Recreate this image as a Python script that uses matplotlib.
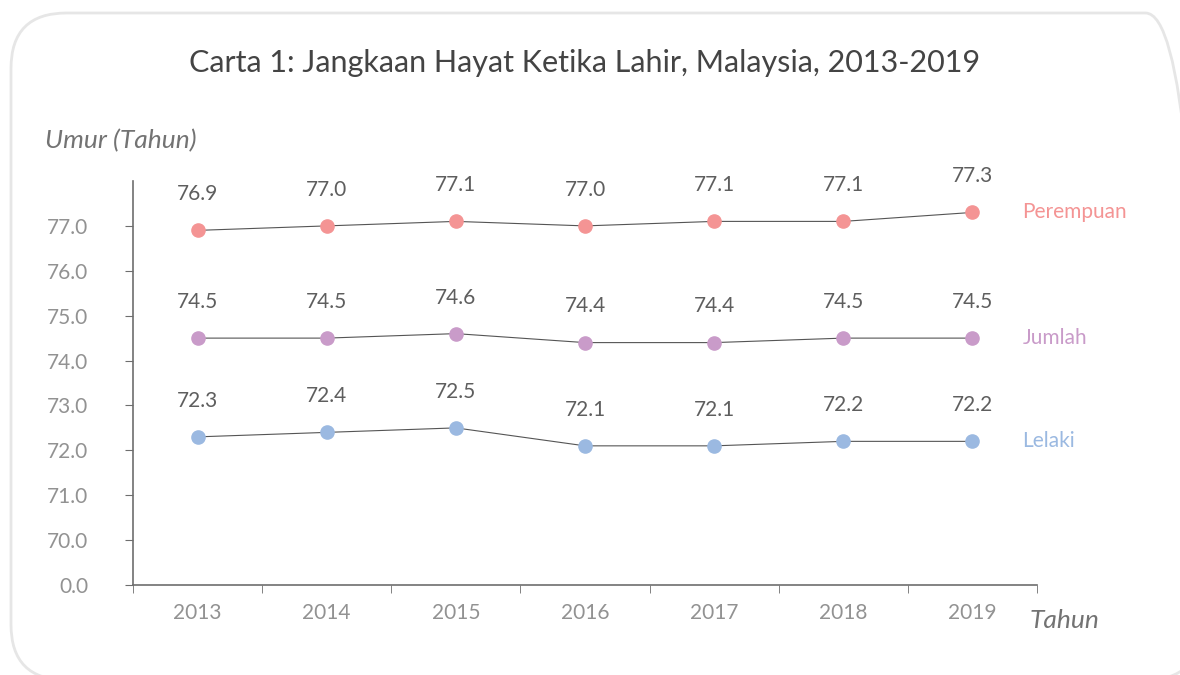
import numpy as np
import matplotlib
matplotlib.use('Agg')
import matplotlib.pyplot as plt
from matplotlib.patches import FancyBboxPatch

years = ['2013', '2014', '2015', '2016', '2017', '2018', '2019']
perempuan = [76.9, 77.0, 77.1, 77.0, 77.1, 77.1, 77.3]
jumlah = [74.5, 74.5, 74.6, 74.4, 74.4, 74.5, 74.5]
lelaki = [72.3, 72.4, 72.5, 72.1, 72.1, 72.2, 72.2]
series_names = ['Perempuan', 'Jumlah', 'Lelaki']
series_colors = ['#f49494', '#c99bc9', '#9bb9e1']
y_ticks = [0, 70, 71, 72, 73, 74, 75, 76, 77]

plt.rcParams['font.family'] = ['Lato', 'DejaVu Sans']


# broken axis: 0 sits one step below 70
def fwd(v):
    v = np.asarray(v, dtype=float)
    return np.where(v >= 70, v - 69, v / 70.0)


def inv(y):
    y = np.asarray(y, dtype=float)
    return np.where(y >= 1, y + 69, y * 70.0)


fig = plt.figure(figsize=(11.8, 6.75), dpi=100)
ax = fig.add_axes([133 / 1180, 1 - 585 / 675, (1037 - 133) / 1180, (585 - 181) / 675])

# rounded frame (runs off the right and bottom edges)
frame = FancyBboxPatch((11 / 1180, -5 / 675), 1190 / 1180, 667 / 675,
                       boxstyle='round,pad=0,rounding_size=0.047',
                       transform=fig.transFigure, facecolor='none',
                       edgecolor='#e6e6e6', linewidth=2, mutation_aspect=1180 / 675)
fig.patches.append(frame)

x = np.arange(len(years))
for name, vals, col in zip(series_names, [perempuan, jumlah, lelaki], series_colors):
    ax.plot(x, vals, color='#555555', linewidth=0.8, zorder=2)
    ax.plot(x, vals, 'o', color=col, markersize=9.5, zorder=3)
    for xi, v in zip(x, vals):
        ax.annotate(f'{v:.1f}', (xi, v), xytext=(0, 26), textcoords='offset points',
                    ha='center', va='center', fontsize=15, color='#5e5e5e')
    ax.annotate(name, (x[-1], vals[-1]), xytext=(36, 0), textcoords='offset points',
                ha='left', va='center', fontsize=15, color=col)

ax.set_yscale('function', functions=(fwd, inv))
ax.set_ylim(0, 78)
ax.set_yticks(y_ticks)
ax.set_yticklabels([f'{t:.1f}' for t in y_ticks])
ax.set_xlim(-0.5, len(years) - 0.5)
ax.set_xticks(x)
ax.set_xticklabels(years)
ax.set_xticks(np.arange(len(years) + 1) - 0.5, minor=True)

for s in ['top', 'right']:
    ax.spines[s].set_visible(False)
for s in ['left', 'bottom']:
    ax.spines[s].set_color('#6e6e6e')
    ax.spines[s].set_linewidth(1.2)

ax.tick_params(axis='y', length=6, color='#6e6e6e', labelsize=15, labelcolor='#929292', pad=26)
ax.tick_params(axis='x', which='major', length=0, labelsize=15, labelcolor='#929292', pad=13)
ax.tick_params(axis='x', which='minor', length=6, color='#6e6e6e')

fig.text(585 / 1180, 1 - 63 / 675, 'Carta 1: Jangkaan Hayat Ketika Lahir, Malaysia, 2013-2019',
         ha='center', va='center', fontsize=22, color='#444444')
fig.text(45 / 1180, 1 - 141 / 675, 'Umur (Tahun)', ha='left', va='center', fontsize=19,
         style='italic', color='#737373')
fig.text(1030 / 1180, 1 - 620 / 675, 'Tahun', ha='left', va='center', fontsize=19,
         style='italic', color='#737373')

fig.savefig('out.png', dpi=100)
